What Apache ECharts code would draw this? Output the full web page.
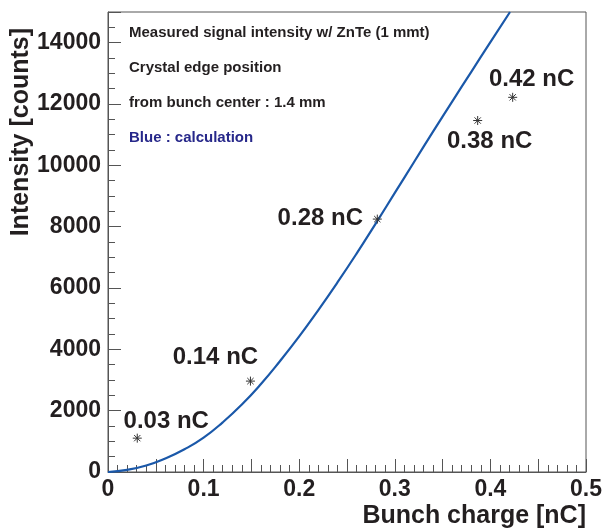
<!DOCTYPE html>
<html>
<head>
<meta charset="utf-8">
<title>Intensity vs bunch charge</title>
<script src="https://cdn.jsdelivr.net/npm/echarts@6/dist/echarts.min.js"></script>
<style>
  html, body { margin: 0; padding: 0; background: #fff; }
  #chart { width: 609px; height: 529px; }
</style>
</head>
<body>
<div id="chart"></div>
<script>
// measured points
const pointCharge = [0.0306, 0.149, 0.2817, 0.3867, 0.4233]
const pointCounts = [1104, 2964, 8247, 11461, 12218]
const pointNames = ['0.03 nC', '0.14 nC', '0.28 nC', '0.38 nC', '0.42 nC']

// calculated curve (blue)
const calcCharge = [0, 0.02, 0.04, 0.06, 0.08, 0.10, 0.12, 0.14, 0.16, 0.18, 0.20,
  0.22, 0.24, 0.26, 0.28, 0.30, 0.32, 0.34, 0.36, 0.38, 0.40, 0.4205]
const calcCounts = [0, 70, 210, 440, 740, 1120, 1620, 2200, 2870, 3620, 4420,
  5280, 6180, 7120, 8100, 9100, 10100, 11100, 12080, 13050, 14020, 15000]

const notes = [
  'Measured signal intensity w/ ZnTe (1 mmt)',
  'Crystal edge position',
  'from bunch center : 1.4 mm',
  'Blue : calculation'
]

const FONT = '"Liberation Sans", Arial, sans-serif'
const INK = '#231f20'
const AXIS = '#555'

// where each point label sits relative to its marker
const labelOffsets = [[29, -17], [-35, -24], [-57, -1], [12, 21], [19, -18]]

const chart = echarts.init(document.getElementById('chart'))

const pointData = pointCharge.map((x, i) => ({
  value: [x, pointCounts[i]],
  name: pointNames[i],
  label: { offset: labelOffsets[i] }
}))

const noteItems = notes.map((t, i) => ({
  type: 'text',
  x: 129,
  y: 33 + i * 35,
  style: {
    text: t,
    font: 'bold 15px ' + FONT,
    fill: i === notes.length - 1 ? '#27288a' : INK,
    verticalAlign: 'middle'
  }
}))

const option = {
  animation: false,
  grid: {
    left: 108,
    right: 23,
    top: 12,
    bottom: 55,
    show: true,
    borderColor: AXIS,
    borderWidth: 1,
    backgroundColor: 'transparent'
  },
  xAxis: {
    type: 'value',
    min: 0,
    max: 0.5,
    interval: 0.05,
    name: 'Bunch charge [nC]',
    nameLocation: 'end',
    nameGap: 0,
    nameTextStyle: {
      fontFamily: FONT,
      fontWeight: 'bold',
      fontSize: 25,
      color: INK,
      align: 'right',
      verticalAlign: 'top',
      padding: [32, 0, 0, 0]
    },
    axisLine: { lineStyle: { color: AXIS, width: 1 } },
    axisTick: { inside: true, length: 13, lineStyle: { color: AXIS } },
    minorTick: { show: true, splitNumber: 5, length: 7, lineStyle: { color: AXIS } },
    splitLine: { show: false },
    axisLabel: {
      margin: 6,
      fontFamily: FONT,
      fontWeight: 'bold',
      fontSize: 23,
      color: INK,
      formatter: v => {
        const k = Math.round(v * 100)
        if (k % 10 !== 0) return ''
        return k === 0 ? '0' : String(k / 100)
      }
    }
  },
  yAxis: [
    {
      type: 'value',
      min: 0,
      max: 15000,
      interval: 2000,
      axisLine: { show: true, lineStyle: { color: AXIS, width: 1 } },
      axisTick: { show: true, inside: true, length: 13, lineStyle: { color: AXIS } },
      splitLine: { show: false },
      axisLabel: {
        margin: 7,
        fontFamily: FONT,
        fontWeight: 'bold',
        fontSize: 23,
        color: INK,
        formatter: v => (v % 2000 === 0 ? String(v) : '')
      }
    },
    {
      // minor ticks every 500
      type: 'value',
      position: 'left',
      min: 0,
      max: 15000,
      interval: 500,
      axisLine: { show: false },
      axisTick: { show: true, inside: true, length: 7, lineStyle: { color: AXIS } },
      splitLine: { show: false },
      axisLabel: { show: false }
    }
  ],
  graphic: [
    {
      type: 'text',
      x: 21,
      y: 28,
      rotation: Math.PI / 2,
      style: {
        text: 'Intensity [counts]',
        font: 'bold 25px ' + FONT,
        fill: INK,
        align: 'right',
        verticalAlign: 'middle'
      }
    }
  ].concat(noteItems),
  series: [
    {
      name: 'calculation',
      type: 'line',
      data: calcCharge.map((x, i) => [x, calcCounts[i]]),
      smooth: true,
      showSymbol: false,
      lineStyle: { color: '#1a58a9', width: 2.2 },
      z: 2
    },
    {
      name: 'measured',
      type: 'scatter',
      data: pointData,
      symbol: 'path://M0,5L10,5M5,0L5,10M1.5,1.5L8.5,8.5M8.5,1.5L1.5,8.5',
      symbolSize: 9,
      itemStyle: { color: 'transparent', borderColor: '#333', borderWidth: 1, opacity: 1 },
      label: {
        show: true,
        position: 'inside',
        formatter: p => p.name,
        fontFamily: FONT,
        fontWeight: 'bold',
        fontSize: 24,
        color: INK
      },
      z: 3
    }
  ]
}

chart.setOption(option)
</script>
</body>
</html>
